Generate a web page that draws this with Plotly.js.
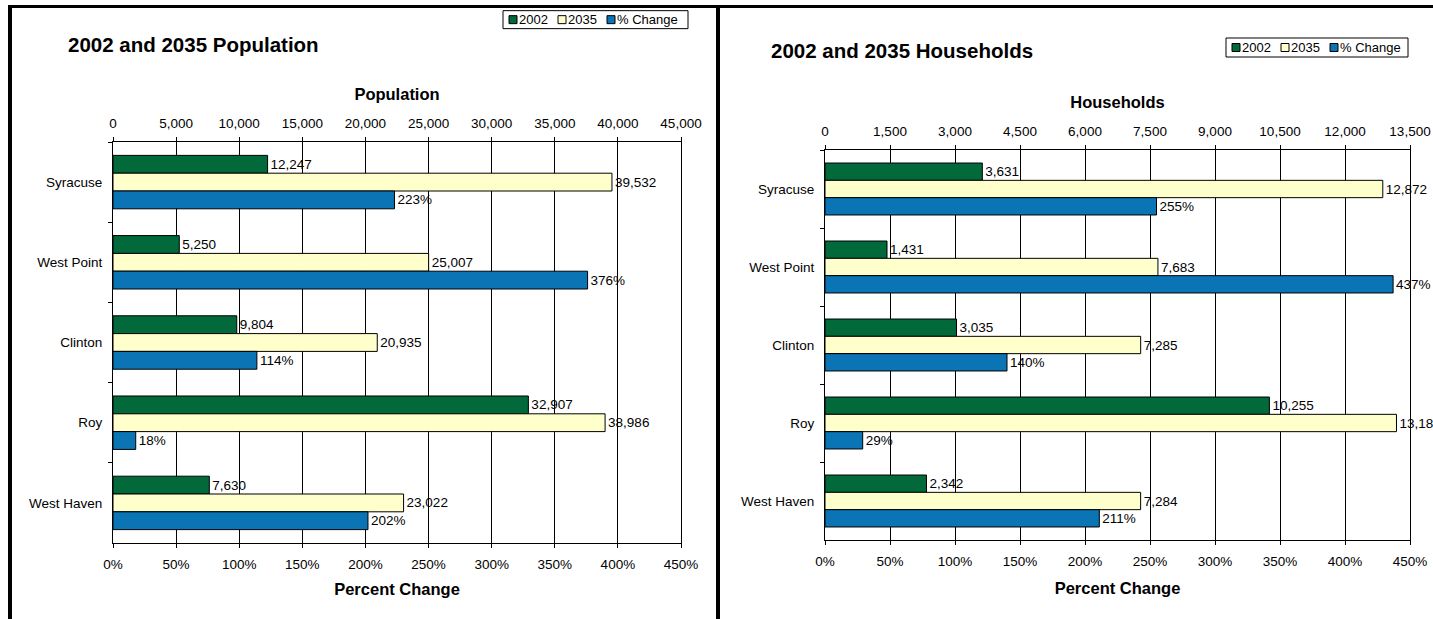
<!DOCTYPE html>
<html>
<head>
<meta charset="utf-8">
<script src="https://cdn.plot.ly/plotly-3.0.1.min.js"></script>
<style>
html,body{margin:0;padding:0;background:#fff;width:1433px;height:619px;overflow:hidden;position:relative;}
#left{position:absolute;left:12px;top:8px;width:704px;height:611px;}
#right{position:absolute;left:720px;top:8px;width:713px;height:611px;}
.rule{position:absolute;background:#000;}
</style>
</head>
<body>
<div class="rule" style="left:8px;top:5px;width:1425px;height:3px"></div>
<div class="rule" style="left:8px;top:5px;width:4px;height:614px"></div>
<div class="rule" style="left:716px;top:5px;width:4px;height:614px"></div>
<div id="left"></div>
<div id="right"></div>
<script>
// ---- data ----
const cities = ['Syracuse', 'West Point', 'Clinton', 'Roy', 'West Haven'];
const seriesNames = ['2002', '2035', '% Change'];
const pop2002 = [12247, 5250, 9804, 32907, 7630];
const pop2035 = [39532, 25007, 20935, 38986, 23022];
const popPctChange = [223, 376, 114, 18, 202];
const hh2002 = [3631, 1431, 3035, 10255, 2342];
const hh2035 = [12872, 7683, 7285, 13188, 7284];
const hhPctChange = [255, 437, 140, 29, 211];

// ---- style ----
const FONT = '"Liberation Sans", Arial, sans-serif';
const COLORS = ['#01693A', '#FFFFCC', '#0A74B5'];

function makeChart(divId, cfg) {
  const m = cfg.margin;
  const W = cfg.width, H = cfg.height;
  const pw = W - m.l - m.r, ph = H - m.t - m.b;
  const px = x => (x - m.l) / pw;          // div px -> paper x
  const py = y => 1 - (y - m.t) / ph;      // div px -> paper y

  const barBase = {
    type: 'bar', orientation: 'h', y: cities, yaxis: 'y',
    width: 0.222, textposition: 'outside', cliponaxis: false,
    constraintext: 'none', hoverinfo: 'skip',
    textfont: {family: FONT, size: 13.5, color: '#000'}
  };
  const offsets = [-0.333, -0.111, 0.111];
  const vals = [cfg.v2002, cfg.v2035, cfg.pct];
  const traces = vals.map((v, i) => Object.assign({}, barBase, {
    name: seriesNames[i], x: v, xaxis: i < 2 ? 'x' : 'x2',
    offset: offsets[i],
    texttemplate: i < 2 ? '%{x:,}' : '%{x:.0f}%',
    marker: {color: COLORS[i], line: {color: '#000', width: 1}}
  }));

  // legend (drawn as shapes + text, positioned in px of this div)
  const lg = cfg.legend;
  const shapes = [{
    type: 'rect', xref: 'paper', yref: 'paper',
    x0: px(lg.x), x1: px(lg.x + lg.w), y0: py(lg.y), y1: py(lg.y + lg.h),
    line: {color: '#000', width: 1}, fillcolor: '#fff', layer: 'above'
  }];
  const annotations = [];
  const textW = [29, 29, 61];
  let cx = lg.x + 6;
  const cy = lg.y + lg.h / 2;
  seriesNames.forEach((nm, i) => {
    shapes.push({
      type: 'rect', xref: 'paper', yref: 'paper',
      x0: px(cx), x1: px(cx + 8), y0: py(cy - 4), y1: py(cy + 4),
      line: {color: '#000', width: 1}, fillcolor: COLORS[i], layer: 'above'
    });
    annotations.push({
      xref: 'paper', yref: 'paper', x: px(cx + 10), y: py(cy),
      xanchor: 'left', yanchor: 'middle', showarrow: false,
      text: nm, borderpad: 0, borderwidth: 0,
      font: {family: FONT, size: 13, color: '#000'}
    });
    cx += 11 + textW[i] + 9;
  });

  const axisCommon = {
    showline: true, linecolor: '#000', linewidth: 1,
    ticks: 'outside', ticklen: 4, tickcolor: '#000', tickwidth: 1,
    zeroline: false, fixedrange: true,
    tickfont: {family: FONT, size: 13.5, color: '#000'}
  };

  const layout = {
    width: W, height: H, margin: m,
    paper_bgcolor: '#fff', plot_bgcolor: '#fff',
    font: {family: FONT, color: '#000'},
    showlegend: false, barmode: 'overlay',
    title: {
      text: '<b>' + cfg.title + '</b>',
      font: {family: FONT, size: 20.5, color: '#000'},
      xref: 'container', yref: 'container',
      x: cfg.titleX / W, xanchor: 'left',
      y: 1 - cfg.titleY / H, yanchor: 'middle'
    },
    xaxis: Object.assign({}, axisCommon, {
      side: 'top', anchor: 'y', range: [0, cfg.max], tick0: 0, dtick: cfg.dtick,
      tickformat: ',', showgrid: true, gridcolor: '#000', gridwidth: 1,
      ticklabelstandoff: 4,
      title: {text: '<b>' + cfg.axisTitle + '</b>', font: {family: FONT, size: 16.5, color: '#000'}, standoff: 10}
    }),
    xaxis2: Object.assign({}, axisCommon, {
      side: 'bottom', overlaying: 'x', anchor: 'y', range: [0, 450], tick0: 0, dtick: 50,
      ticksuffix: '%', showgrid: false, ticklabelstandoff: 5,
      title: {text: '<b>Percent Change</b>', font: {family: FONT, size: 16.5, color: '#000'}, standoff: cfg.pctStandoff}
    }),
    yaxis: Object.assign({}, axisCommon, {
      type: 'category', range: [4.5, -0.5], tickson: 'boundaries',
      mirror: true, showgrid: false, ticklabelstandoff: 7
    }),
    shapes: shapes, annotations: annotations
  };
  Plotly.newPlot(divId, traces, layout, {staticPlot: true, displayModeBar: false});
}

makeChart('left', {
  width: 704, height: 611,
  margin: {l: 101, r: 35, t: 133.5, b: 76, pad: 0},
  v2002: pop2002, v2035: pop2035, pct: popPctChange,
  max: 45000, dtick: 5000,
  title: '2002 and 2035 Population', axisTitle: 'Population',
  titleX: 56, titleY: 37, pctStandoff: 12,
  legend: {x: 491, y: 2, w: 185, h: 18}
});

makeChart('right', {
  width: 713, height: 611,
  margin: {l: 105, r: 23, t: 142, b: 79, pad: 0},
  v2002: hh2002, v2035: hh2035, pct: hhPctChange,
  max: 13500, dtick: 1500,
  title: '2002 and 2035 Households', axisTitle: 'Households',
  titleX: 51, titleY: 43, pctStandoff: 14,
  legend: {x: 506, y: 30, w: 182, h: 19}
});
</script>
</body>
</html>
